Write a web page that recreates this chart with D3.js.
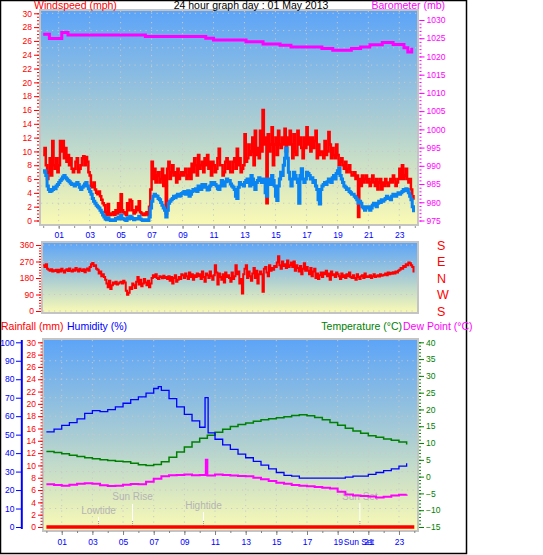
<!DOCTYPE html>
<html><head><meta charset="utf-8">
<script src="https://cdn.jsdelivr.net/npm/d3@7"></script>
<style>
body{margin:0;background:#fff}
text{font-family:"Liberation Sans",Arial,sans-serif}
</style>
</head><body>
<svg id="chart" width="543" height="555"></svg>
<script>
// ---------------- DATA ----------------
const titleText = "24 hour graph day : 01 May 2013";
const hourLabels = ["01","03","05","07","09","11","13","15","17","19","21","23"];
const labelHours = [1,3,5,7,9,11,13,15,17,19,21,23];

// wind, one sample every 5 minutes from 00:00 (12 per hour)
const sampleMinutes = 5;
const windGust = [
 9.5,10.5,8,6,7,9,6.5,11.5,8,7.5,9,7,
 8,11.5,10,11.5,9,10.5,8.5,9.5,8,9,7.5,7,
 7.5,8.5,9,7,7.5,8,9,9.3,8,9.2,8.5,7,
 6.5,5,4.8,5.5,4.5,4,3.8,4.2,3.5,3,2.5,2.2,
 1.2,0.8,2.4,1,0.8,1,1.2,0.8,1.5,1,2.5,1.2,
 3.8,1.5,1.2,1,0.8,2.5,1.5,3,2.8,1.5,1,1.2,
 2,1.5,2.8,1.2,1,0.8,0.8,1,1.2,0.8,2,4.5,
 8.5,6,7.5,5.5,6.5,7,5.5,6,7.5,5,6.5,1,
 7.5,8.5,6,7,8,6.5,7,5.5,7.5,6,6.5,7,
 6.5,7,7.5,6,6.5,7.5,6,8.2,7,9,8,6.5,
 9.5,7.5,8,8.5,7,9,8,9.5,7.5,8.5,6.5,8.5,
 8,7,7.5,9,10.4,8,8,6.5,7,8.5,9,7.5,
 8.5,7,7,8.5,9,7.5,10.4,8,9,7,7.5,8,
 12.5,8.5,9,11,9.5,10,12,8,13,9.5,10.5,9,
 13,10,16,11,12,2.5,12.5,10,11,13.5,8,11,
 12,9.5,13,11,10.5,12,11,13.3,10,12,11,13,
 11,9,12.5,10,9.5,13,11,12,10.5,9,12,10.5,
 13.5,11,12,10,12,10.5,11.5,13,9,11,9.5,10,
 10,9,11.5,9.5,10,12.8,11,9,10.5,9.5,9,11,
 9.5,8,8.5,9,8,7.5,8.5,7,7.5,8,7,6.5,
 6.5,7,6,6.5,0.5,6,5,6.5,5.5,6,6.5,5.5,
 6,5,5.5,6.5,5.5,5,6,4.5,5.5,6,4.5,5.5,
 5,6,5.5,5,5.5,6,5.5,6.5,6,5,5.5,6,
 7.5,6,8,6,6.5,7.5,6,5.5,6,4.5,3.5,3
];
const windAvg = [
 7,7.2,6.5,5,4.5,4.2,4.3,4.5,4.8,4.6,5,5.2,
 5.5,5.8,6,6.3,6.5,6.2,6,5.8,5.6,5.4,5.2,5.3,
 5,5.2,5.5,5.2,4.8,4.5,4.8,5,5.3,5.5,5,4.6,
 4.2,3.8,3.2,2.8,2.5,2.2,2,1.8,1.5,1.2,0.8,0.5,
 0.2,0.1,0.4,0.1,0,0.1,0.1,0,0.3,0.2,0.5,0.2,
 0.8,0.3,0.2,0.1,0,0.4,0.2,0.6,0.5,0.3,0.1,0.2,
 0.3,0.2,0.6,0.2,0.1,0,0,0.1,0.1,0,0.5,1.8,
 2.8,3.5,3.8,3.6,3.5,3.2,3,2.6,2.2,1.8,1.5,0.5,
 1.5,2.5,2.8,3,3.2,3.5,3.3,3.6,3.8,3.5,3.6,3.9,
 4,4.2,3.8,4,4.3,3.5,3.8,4.2,4.5,4.3,4.6,4.2,
 5,4.7,4.5,5.2,4.8,5.2,4.8,4.4,4.5,5,5.5,5.2,
 5.5,5.2,5,4.6,4.5,5,5.8,5.4,5,5.6,6,5.7,
 5.8,5.3,5,4.8,4.5,3.5,3.2,4.8,5.5,5.2,5.2,5,
 5.5,5.8,6,5.5,5,6.5,6,5.2,4.5,5.5,5.8,6.2,
 6,5.5,5.5,6,4,3.5,6,5.5,5.2,6.5,5.8,5,
 3.5,2.9,5,6,7,6.5,8,9,10.5,9,7,6,
 5,6,7,6.5,6,5.5,2.5,6.5,7.5,6,5.5,6,
 7,6.8,6.5,6,6.2,5.5,5.8,5,4.5,3,2.4,4.5,
 5,5.2,5.5,5.2,5.6,6,5.8,5.5,6.2,6.5,6,6.8,
 7.2,7.6,6.5,6,5.5,5,4.8,4.5,4.6,4.2,4,3.8,
 3.8,3.5,3.3,3,2.5,2.8,2.5,2,1.8,1.5,2,1.8,
 2,1.5,1.8,2.2,2.5,2.2,2,2.5,2.8,2.6,3,2.8,
 3,3.2,3.5,3.3,3.2,3,3.5,3.8,3.6,3.5,3.8,4,
 3.8,4,4.2,4.5,4.3,4.6,4.5,4,3.5,3,2,1.2
];
const windDir = [
 250,240,255,230,225,220,228,215,222,218,225,212,
 225,215,230,220,210,222,228,218,232,220,215,226,
 220,235,225,215,230,222,218,228,212,225,232,220,
 240,255,262,245,250,230,225,205,215,190,200,185,
 170,150,130,165,120,140,155,148,160,145,150,155,
 160,150,165,155,110,88,100,130,120,150,140,125,
 160,185,145,170,135,150,175,155,140,165,130,150,
 180,195,185,200,180,175,190,185,178,192,180,185,
 175,190,165,185,150,180,195,160,170,185,175,200,
 195,180,205,190,175,210,185,200,170,195,185,205,
 190,200,175,215,185,160,205,195,180,215,190,170,
 195,250,210,145,205,185,170,200,155,210,185,195,
 180,160,210,175,190,250,200,215,150,175,95,200,
 230,250,180,215,190,165,205,235,180,220,150,200,
 215,200,105,230,240,210,190,250,220,235,225,245,
 240,265,298,250,230,270,245,255,235,275,240,250,
 265,240,270,220,250,235,215,245,200,230,260,220,
 240,220,200,235,190,215,230,180,205,175,195,210,
 185,210,200,220,190,205,170,215,195,200,185,210,
 200,190,175,205,185,195,180,200,190,210,185,180,
 195,180,170,200,185,175,190,195,180,205,185,190,
 185,195,180,190,200,185,190,195,188,200,192,195,
 198,205,195,210,200,208,203,212,205,215,210,220,
 225,235,230,245,240,255,250,265,260,250,240,210
];

const baroHours  = [0,0.4,1.2,1.6,6.6,10.5,11.0,13.1,14.2,15.3,16.0,18.0,18.7,19.9,20.5,21.1,21.9,22.6,23.3,23.55,23.8];
const baroValues = [1026.1,1024.9,1026.6,1025.9,1025.5,1025.0,1024.5,1024.0,1023.4,1023.1,1022.6,1022.2,1021.7,1022.2,1022.6,1023.2,1023.8,1023.3,1022.4,1021.2,1022.4];

const humHours  = [0,0.5,1,1.5,2,2.5,3,3.5,4,4.5,5,5.5,6,6.5,7,7.3,7.5,8,8.5,9,9.5,10,10.35,10.55,11,11.5,12,12.5,13,13.5,14,14.5,15,15.5,16,16.5,17,17.5,18,18.5,19,19.5,20,20.5,21,21.5,22,22.5,23,23.5];
const humValues = [51.5,53,55,56.5,58.5,61.5,63,62.5,63.5,65,67,69,70.5,72.5,75,76,74,69.5,65,61,57.5,54,70,51,47.5,44.5,42,39.5,37.5,35.5,33.5,31.5,29.5,28,27.5,26.5,26.5,26.5,26.5,26.5,26.5,27,27.5,27.5,28.5,29.5,30.5,31.5,33,34.5];

const tempHours  = [0,0.5,1,1.5,2,2.5,3,3.5,4,4.5,5,5.5,6,6.5,7,7.5,8,8.5,9,9.5,10,10.5,11,11.5,12,12.5,13,13.5,14,14.5,15,15.5,16,16.5,17,17.5,18,18.5,19,19.5,20,20.5,21,21.5,22,22.5,23,23.5];
const tempValues = [7.5,7.2,6.8,6.4,6.0,5.6,5.3,5.0,4.8,4.6,4.4,4.0,3.5,3.3,3.6,4.4,5.8,7.3,8.8,10.3,11.4,12.3,13.2,14.1,14.9,15.5,16.0,16.5,16.9,17.2,17.5,17.8,18.2,18.4,18.1,17.6,16.9,16.1,15.3,14.4,13.6,12.9,12.2,11.7,11.2,10.8,10.3,9.6];

const dewHours  = [0,0.5,1,1.5,2,2.5,3,3.5,4,4.5,5,5.5,6,6.5,7,7.5,8,8.5,9,9.5,10,10.4,10.5,11,11.5,12,12.5,13,13.5,14,14.5,15,15.5,16,16.5,17,17.5,18,18.5,19,19.5,20,20.5,21,21.5,22,22.5,23,23.5];
const dewValues = [-2.3,-2.5,-2.7,-2.4,-2.1,-2.0,-2.1,-2.6,-2.8,-2.7,-2.4,-2.2,-2.3,-1.5,-0.6,0.1,0.4,0.5,0.6,0.4,0.5,5.0,0.3,0.6,0.5,0.3,0.2,0.1,-0.3,-0.8,-1.3,-1.8,-2.1,-2.5,-2.7,-2.9,-3.1,-3.3,-3.5,-4.5,-5.3,-5.6,-5.8,-5.9,-6.2,-6.0,-5.6,-5.4,-5.3];

const rainHours  = [0,24];
const rainValues = [0,0];

const eventNames = ["Lowtide","Sun Rise","Hightide","Sun Set"];
const eventHours = [3.4,5.62,10.25,20.45];

const windTicks = [0,2,4,6,8,10,12,14,16,18,20,22,24,26,28,30];
const baroTicks = [975,980,985,990,995,1000,1005,1010,1015,1020,1025,1030];
const dirTicks  = [0,90,180,270,360];
const compassLabels = ["S","E","N","W","S"];
const humTicks  = [0,10,20,30,40,50,60,70,80,90,100];
const rainTicks = [0,2,4,6,8,10,12,14,16,18,20,22,24,26,28,30];
const tempTicks = [-15,-10,-5,0,5,10,15,20,25,30,35,40];

// ---------------- DRAWING ----------------
const RED="#ff0000", MAG="#ff00ff", BLUE="#0000ff", GREEN="#008000", WBLUE="#0a84f0";
const svg = d3.select("#chart");
const fmt = d3.format("d");

const defs = svg.append("defs");
const grad = defs.append("linearGradient").attr("id","bg").attr("x1",0).attr("y1",0).attr("x2",0).attr("y2",1);
grad.append("stop").attr("offset","0").attr("stop-color","#5ca4f8");
grad.append("stop").attr("offset","0.5").attr("stop-color","#a8ccd4");
grad.append("stop").attr("offset","1").attr("stop-color","#fafab4");

// outer frame
svg.append("rect").attr("x",0.5).attr("y",0.5).attr("width",466).attr("height",553)
  .attr("fill","#fff").attr("stroke","#000").attr("stroke-width",1.5);

function panel(x0,y0,x1,y1){
  svg.append("rect").attr("x",x0).attr("y",y0).attr("width",x1-x0).attr("height",y1-y0)
    .attr("fill","url(#bg)").attr("stroke","#c4c4c4").attr("stroke-width",2);
}
function hgrid(ys,x0,x1){
  svg.append("g").selectAll("line").data(ys).join("line")
    .attr("x1",x0).attr("x2",x1).attr("y1",d=>d).attr("y2",d=>d)
    .attr("stroke","#c8c8c8").attr("stroke-width",1).attr("stroke-dasharray","1.2,4.3");
}
function vgrid(xs,y0,y1){
  svg.append("g").selectAll("line").data(xs).join("line")
    .attr("y1",y0).attr("y2",y1).attr("x1",d=>d).attr("x2",d=>d)
    .attr("stroke","#c8c8c8").attr("stroke-width",1).attr("stroke-dasharray","1.2,4.3");
}
function axis(gen, tx, ty, color, size){
  const g = svg.append("g").attr("transform",`translate(${tx},${ty})`).call(gen);
  g.select(".domain").remove();
  g.selectAll("line").attr("stroke",color);
  g.selectAll("text").attr("fill",color).style("font-size",(size||8.5)+"px");
  return g;
}
function drawSeries(times, values, xS, yS, color, w, curve){
  const pts = times.map((t,i)=>[xS(t), yS(values[i])]);
  svg.append("path").attr("d", d3.line().curve(curve||d3.curveStepAfter)(pts))
    .attr("fill","none").attr("stroke",color).attr("stroke-width",w).attr("stroke-linejoin","miter");
}

// ---------- TOP PANEL : wind + barometer ----------
const xTop = d3.scaleLinear().domain([0,24]).range([43.2,414.8]);
const yWind = d3.scaleLinear().domain([0,30]).range([220.5,13.3]);
const yBaro = d3.scaleLinear().domain([975,1030]).range([220.5,20]);

panel(40,10,418,225);
hgrid(d3.range(2.5,30.01,2.5).map(v=>yWind(v)), 41, 417);
vgrid(labelHours.map(h=>xTop(h)), 11, 224);

const windTimes = windGust.map((v,i)=>i*sampleMinutes/60);
drawSeries(windTimes, windGust, xTop, yWind, RED, 2.5);
drawSeries(windTimes, windAvg, xTop, yWind, WBLUE, 3);
drawSeries(baroHours, baroValues, xTop, yBaro, MAG, 3);

// wind axis (left)
axis(d3.axisLeft(yWind).tickValues(d3.range(0,30.01,0.5)).tickSize(2).tickFormat(""), 39, 0, RED);
axis(d3.axisLeft(yWind).tickValues(windTicks).tickSize(5).tickPadding(2).tickFormat(fmt), 39, 0, RED);
// baro axis (right)
axis(d3.axisRight(yBaro).tickValues(d3.range(975,1030.01,1)).tickSize(2).tickFormat(""), 419.5, 0, MAG);
axis(d3.axisRight(yBaro).tickValues(baroTicks).tickSize(5).tickPadding(2).tickFormat(fmt), 419.5, 0, MAG);
// x axis
axis(d3.axisBottom(xTop).tickValues(d3.range(0,24.01,1)).tickSize(2).tickFormat(""), 0, 226, "#909090");
const xa = axis(d3.axisBottom(xTop).tickValues(labelHours).tickSize(3).tickPadding(3).tickFormat((d,i)=>hourLabels[i]), 0, 226, "#909090");
xa.selectAll("text").attr("fill",BLUE);

svg.append("text").attr("x",34).attr("y",8.5).attr("fill",RED).style("font-size","10.5px").text("Windspeed (mph)");
svg.append("text").attr("x",251).attr("y",8.5).attr("text-anchor","middle").attr("fill","#000").style("font-size","10.5px").text(titleText);
svg.append("text").attr("x",445).attr("y",8.5).attr("text-anchor","end").attr("fill",MAG).style("font-size","10.5px").text("Barometer (mb)");

// ---------- MIDDLE PANEL : wind direction ----------
const yDir = d3.scaleLinear().domain([0,360]).range([311,245]);
panel(42,242,418,313);
hgrid(dirTicks.map(d=>yDir(d)), 43, 417);
drawSeries(windTimes, windDir, xTop, yDir, RED, 2);
axis(d3.axisLeft(yDir).tickValues(d3.range(0,360.1,15)).tickSize(2).tickFormat(""), 41, 0, RED);
axis(d3.axisLeft(yDir).tickValues(dirTicks).tickSize(5).tickPadding(2).tickFormat(fmt), 41, 0, RED);
svg.append("g").selectAll("text").data(compassLabels).join("text")
  .attr("x",437).attr("y",(d,i)=>yDir(dirTicks[dirTicks.length-1-i])+4.5)
  .attr("fill",RED).style("font-size","12.5px").text(d=>d);

// ---------- BOTTOM PANEL ----------
const xBot = d3.scaleLinear().domain([0,24]).range([46.4,414.3]);
const yHum = d3.scaleLinear().domain([0,100]).range([527,342.3]);
const yRain = d3.scaleLinear().domain([0,30]).range([527,342.3]);
const yTemp = d3.scaleLinear().domain([-15,40]).range([527,342.3]);

panel(43,339,418,531);
hgrid(humTicks.slice(1,10).map(v=>yHum(v)), 44, 417);
vgrid(labelHours.map(h=>xBot(h)), 340, 530);

// events (tides, sun)
const evLabelY = [511,497,506,497], evTopY = [517,504,512,503];
eventNames.forEach((n,i)=>{
  const x = xBot(eventHours[i]);
  svg.append("line").attr("x1",x).attr("x2",x).attr("y1",evTopY[i]).attr("y2",521).attr("stroke","#fff").attr("stroke-width",1);
  svg.append("line").attr("x1",x).attr("x2",x).attr("y1",521).attr("y2",528).attr("stroke","#a0a0a0").attr("stroke-width",1).attr("stroke-dasharray","1,1");
  svg.append("text").attr("x",x).attr("y",evLabelY[i]+3).attr("text-anchor","middle")
    .attr("fill","#b4b4b4").style("font-size","10px").text(n);
});

drawSeries(tempHours, tempValues, xBot, yTemp, GREEN, 1.5);
drawSeries(humHours, humValues, xBot, yHum, BLUE, 1.3);
drawSeries(dewHours, dewValues, xBot, yTemp, MAG, 2);
drawSeries(rainHours, rainValues, xBot, yRain, RED, 3.5, d3.curveLinear);

// humidity axis
svg.append("line").attr("x1",21.8).attr("x2",21.8).attr("y1",340).attr("y2",529).attr("stroke",BLUE).attr("stroke-width",2);
axis(d3.axisLeft(yHum).tickValues(humTicks).tickSize(5).tickPadding(1.5).tickFormat(fmt), 21, 0, BLUE);
// rain axis
axis(d3.axisLeft(yRain).tickValues(d3.range(0,30.01,0.5)).tickSize(2).tickFormat(""), 42.5, 0, RED);
axis(d3.axisLeft(yRain).tickValues(rainTicks).tickSize(4.5).tickPadding(2).tickFormat(fmt), 42.5, 0, RED);
// temp axis (right)
axis(d3.axisRight(yTemp).tickValues(d3.range(-15,40.01,1)).tickSize(2).tickFormat(""), 419, 0, GREEN);
axis(d3.axisRight(yTemp).tickValues(tempTicks).tickSize(5).tickPadding(2).tickFormat(fmt), 419, 0, GREEN);
// x axis
axis(d3.axisBottom(xBot).tickValues(d3.range(0,24.01,1)).tickSize(2).tickFormat(""), 0, 531, "#808080");
const xb = axis(d3.axisBottom(xBot).tickValues(labelHours).tickSize(4).tickPadding(4).tickFormat((d,i)=>hourLabels[i]), 0, 531, "#808080");
xb.selectAll("text").attr("fill",BLUE);
svg.append("text").attr("x",xBot(eventHours[3])-1).attr("y",545).attr("text-anchor","middle").attr("fill",BLUE).style("font-size","8.5px").text(eventNames[3]);

svg.append("text").attr("x",1).attr("y",330).attr("fill",RED).style("font-size","10.5px").text("Rainfall (mm)");
svg.append("text").attr("x",67).attr("y",330).attr("fill",BLUE).style("font-size","10.5px").text("Humidity (%)");
svg.append("text").attr("x",402).attr("y",330).attr("text-anchor","end").attr("fill",GREEN).style("font-size","10.5px").text("Temperature (°C)");
svg.append("text").attr("x",403).attr("y",330).attr("fill",MAG).style("font-size","10.5px").text("Dew Point (°C)");
</script>
</body></html>
